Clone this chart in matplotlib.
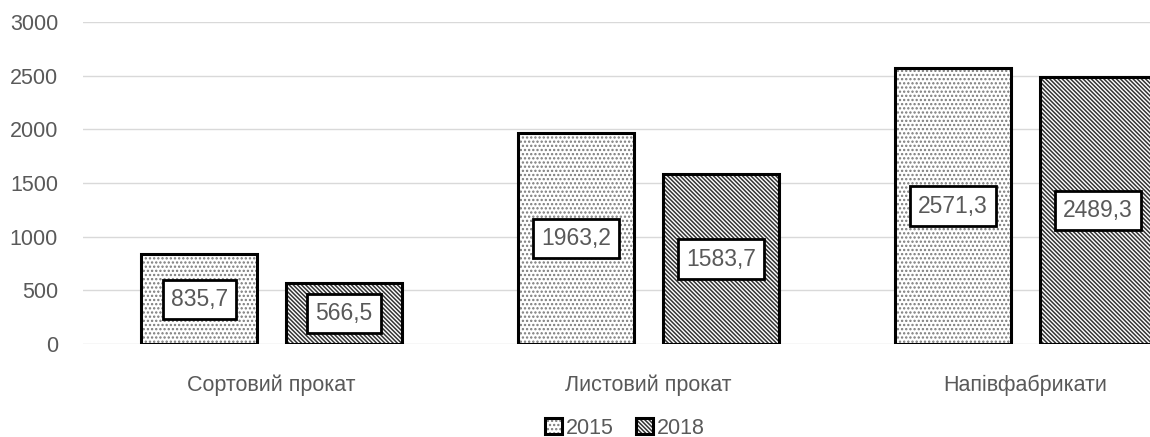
import matplotlib
matplotlib.use("Agg")
import matplotlib.pyplot as plt
import numpy as np

# === Data ===
categories = ["Сортовий прокат", "Листовий прокат", "Напівфабрикати"]
years = ["2015", "2018"]
values_2015 = [835.7, 1963.2, 2571.3]
values_2018 = [566.5, 1583.7, 2489.3]
y_ticks = [0, 500, 1000, 1500, 2000, 2500, 3000]

plt.rcParams["font.family"] = ["Liberation Sans", "DejaVu Sans"]
plt.rcParams["hatch.linewidth"] = 1.1
text_grey = "#595959"

# === Figure ===
fig = plt.figure(figsize=(11.5, 4.37), dpi=100)
# the right part of the plot area is cut off in the original picture
ax = fig.add_axes([83 / 1150, 93 / 437, 3 * 377 / 1150, 322 / 437])

x = np.arange(len(categories))
width = 0.308
offset = 0.192

# hatched fills (hatch colour comes from edgecolor), then black outlines on top
fill1 = ax.bar(x - offset, values_2015, width, color="white", edgecolor="#7a7a7a",
               linewidth=0, hatch="....", zorder=3)
fill2 = ax.bar(x + offset, values_2018, width, color="white", edgecolor="#333333",
               linewidth=0, hatch="\\" * 8, zorder=3)
edge1 = ax.bar(x - offset, values_2015, width, fill=False, edgecolor="black",
               linewidth=2.2, zorder=4)
edge2 = ax.bar(x + offset, values_2018, width, fill=False, edgecolor="black",
               linewidth=2.2, zorder=4)

# value labels in white boxes, centred in the bars
for xs, vals in ((x - offset, values_2015), (x + offset, values_2018)):
    for xi, v in zip(xs, vals):
        ax.text(xi, v / 2, f"{v:.1f}".replace(".", ","), ha="center", va="center",
                fontsize=16.5, color=text_grey, zorder=5,
                bbox=dict(boxstyle="square,pad=0.35", facecolor="white",
                          edgecolor="black", linewidth=2.0))

# axes styling
ax.set_xlim(-0.5, len(categories) - 0.5)
ax.set_ylim(0, 3000)
ax.set_yticks(y_ticks)
ax.set_xticks(x)
ax.set_xticklabels(categories)
ax.tick_params(axis="both", length=0, labelsize=15.5, colors=text_grey)
ax.tick_params(axis="y", pad=18)
ax.tick_params(axis="x", pad=22)
ax.grid(axis="y", color="#d9d9d9", linewidth=1.0, zorder=0)
for s in ax.spines.values():
    s.set_visible(False)

# legend at bottom
leg = fig.legend(handles=[(fill1[0], edge1[0]), (fill2[0], edge2[0])], labels=years,
                 ncol=2, frameon=False, loc="center",
                 bbox_to_anchor=(625 / 1150, 9 / 437),
                 fontsize=15.5, handlelength=0.8, handleheight=0.8,
                 handletextpad=0.2, columnspacing=1.0)
for t in leg.get_texts():
    t.set_color(text_grey)

plt.savefig("out.png", dpi=100)
